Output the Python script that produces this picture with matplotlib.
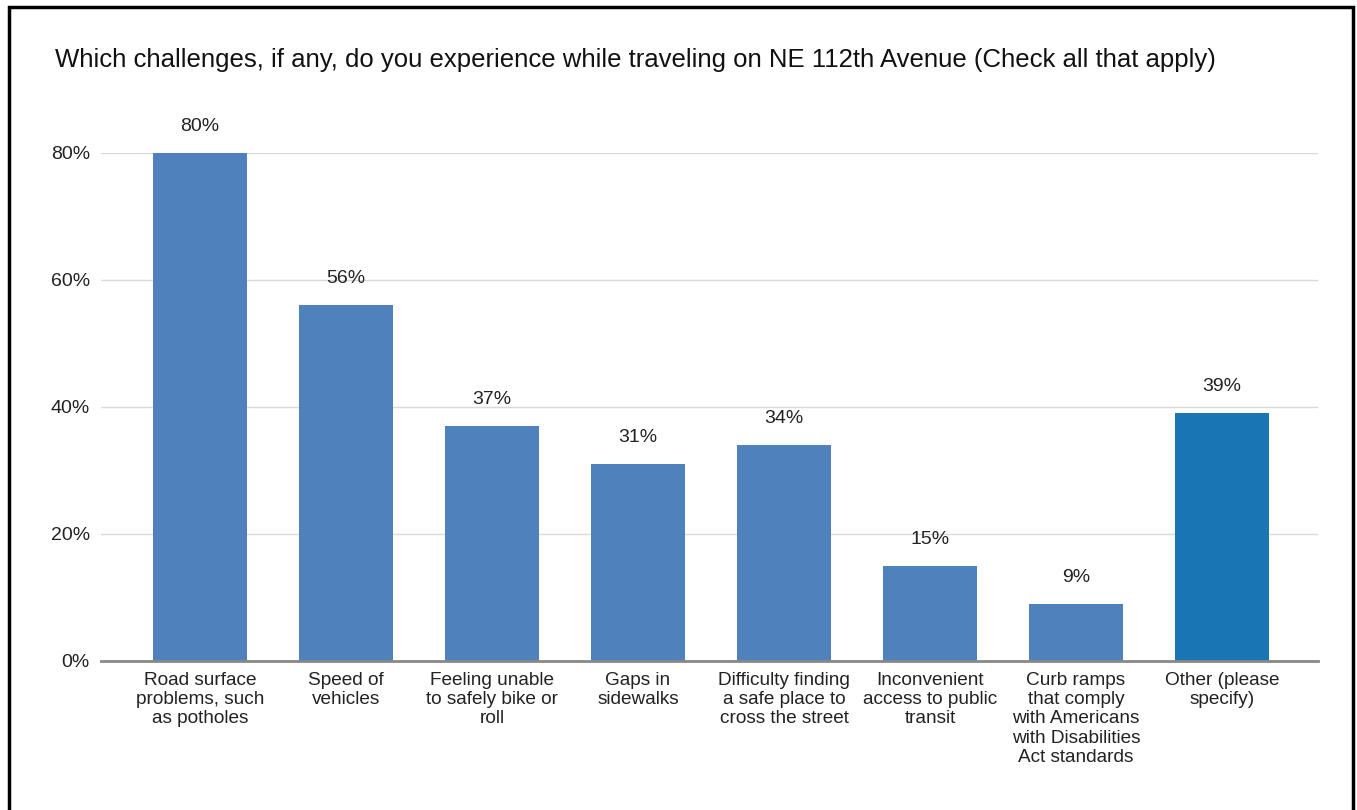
import matplotlib.pyplot as plt
from matplotlib.patches import Rectangle

plt.rcParams['font.family'] = ['Liberation Sans', 'DejaVu Sans']

# Survey responses (percent of respondents)
categories = [
    "Road surface\nproblems, such\nas potholes",
    "Speed of\nvehicles",
    "Feeling unable\nto safely bike or\nroll",
    "Gaps in\nsidewalks",
    "Difficulty finding\na safe place to\ncross the street",
    "Inconvenient\naccess to public\ntransit",
    "Curb ramps\nthat comply\nwith Americans\nwith Disabilities\nAct standards",
    "Other (please\nspecify)",
]
values = [80, 56, 37, 31, 34, 15, 9, 39]
yticks = [0, 20, 40, 60, 80]
bar_colors = ['#4f81bd'] * 7 + ['#1a75b4']

fig = plt.figure(figsize=(13.57, 8.10), dpi=100)
ax = fig.add_axes([0.0744, 0.184, 0.8969, 0.6272])

x = list(range(len(categories)))
bars = ax.bar(x, values, width=0.65, color=bar_colors, zorder=3)

for b, v in zip(bars, values):
    ax.annotate(f"{v}%", (b.get_x() + b.get_width() / 2, v),
                xytext=(0, 13), textcoords='offset points',
                ha='center', va='bottom', fontsize=14, color='#222222')

ax.set_xlim(-0.678, 7.658)
ax.set_ylim(0, 80)
ax.set_yticks(yticks)
ax.set_yticklabels([f"{t}%" for t in yticks])
ax.set_xticks(x)
ax.set_xticklabels(categories, fontsize=13.7, linespacing=1.17, color='#222222')
ax.tick_params(axis='both', length=0, labelsize=14, colors='#222222')
ax.tick_params(axis='x', labelsize=13.7, pad=8)
ax.tick_params(axis='y', pad=8)

ax.grid(axis='y', color='#d9d9d9', linewidth=1, zorder=0)
for s in ['top', 'right', 'left']:
    ax.spines[s].set_visible(False)
ax.spines['bottom'].set_color('#888888')
ax.spines['bottom'].set_linewidth(2)
ax.spines['bottom'].set_zorder(4)

fig.text(55 / 1357, 1 - 60 / 810,
         "Which challenges, if any, do you experience while traveling on NE 112th Avenue (Check all that apply)",
         fontsize=18.5, va='center', ha='left', color='#111111')

# Black frame around the chart, open at the bottom edge
fig.patches.append(Rectangle((9 / 1357, -0.05), (1353 - 9) / 1357, 1.05 - 7 / 810,
                             transform=fig.transFigure, fill=False,
                             edgecolor='black', linewidth=2.5))

fig.savefig('out.png', dpi=100, facecolor='white')
